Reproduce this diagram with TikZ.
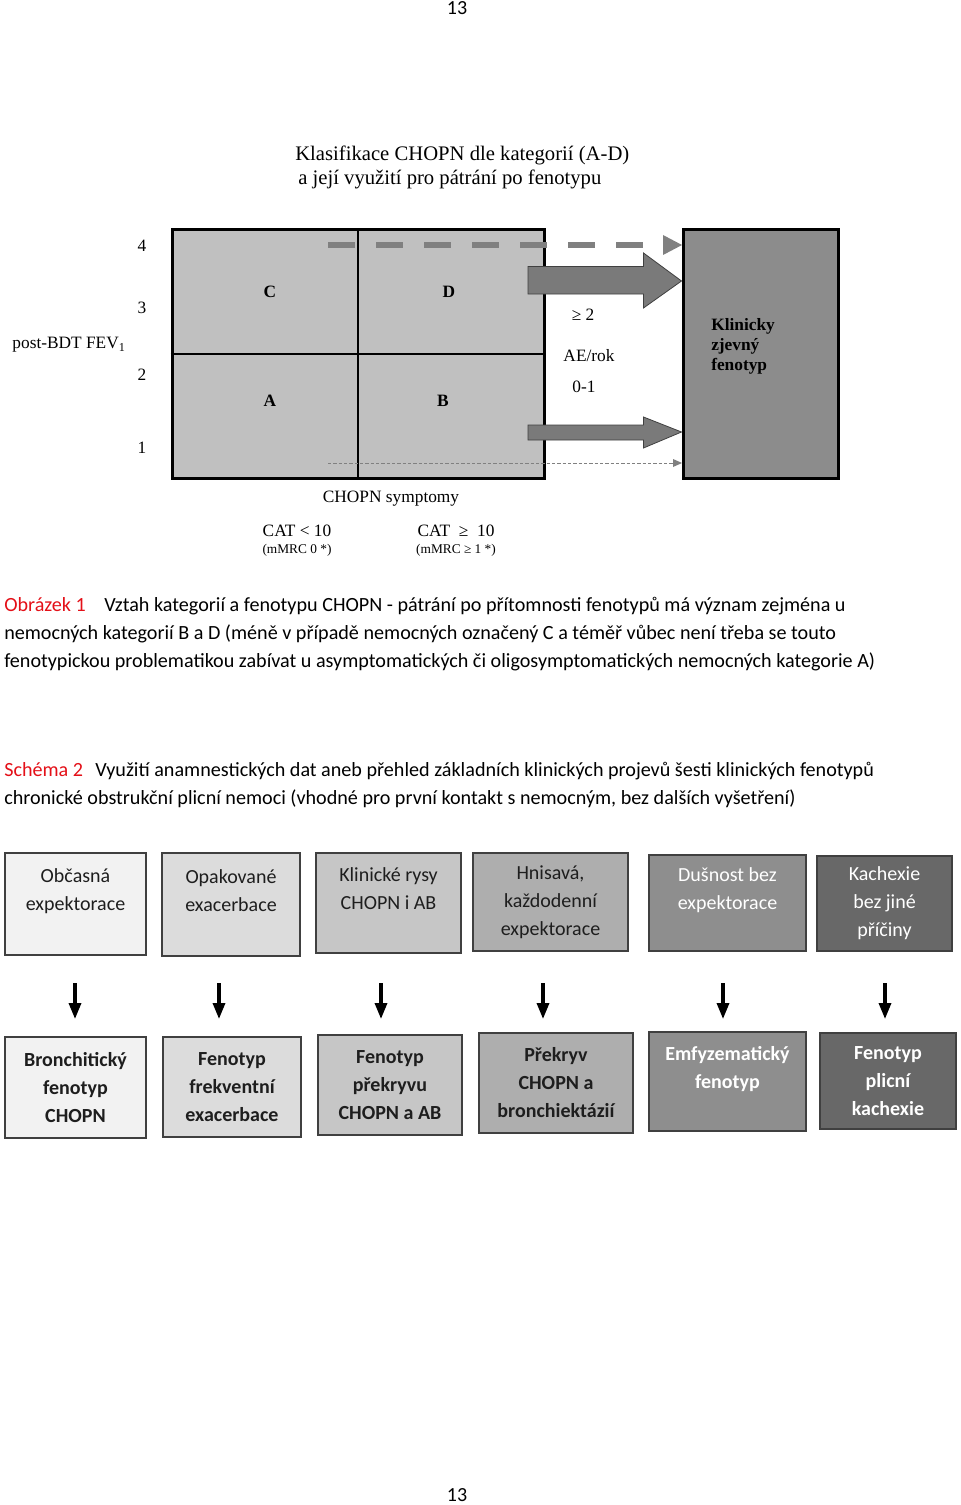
\documentclass[tikz,border=0pt]{standalone}
\usepackage{fontspec}
\setmainfont{Liberation Serif}
\newfontfamily\carl{Carlito}
\usetikzlibrary{arrows.meta}
\definecolor{capred}{RGB}{228,16,24}
\definecolor{gridfill}{RGB}{192,192,192}
\definecolor{klinfill}{RGB}{140,140,140}
\definecolor{blockfill}{RGB}{122,122,122}
\definecolor{dashgray}{RGB}{128,128,128}
\definecolor{boxline}{RGB}{64,64,64}
\definecolor{txtdark}{RGB}{30,30,30}
\definecolor{fa}{RGB}{242,242,242}
\definecolor{fb}{RGB}{220,220,220}
\definecolor{fc}{RGB}{198,198,198}
\definecolor{fd}{RGB}{174,174,174}
\definecolor{fe}{RGB}{142,142,142}
\definecolor{ff}{RGB}{104,104,104}
\begin{document}
\begin{tikzpicture}[x=0.75pt,y=-0.75pt,
  tnr/.style={inner sep=0pt,font=\fontsize{13}{15.4}\selectfont},
  tnrb/.style={inner sep=0pt,font=\fontsize{13}{15.4}\selectfont\bfseries},
  captxt/.style={inner sep=0pt,anchor=base west,font=\carl\fontsize{15.1}{21}\selectfont},
  pbox/.style={draw=boxline,line width=1.5pt,align=center,inner sep=0pt,
     font=\carl\fontsize{15}{21}\selectfont,text=txtdark},
  fbox/.style={pbox,font=\carl\fontsize{15}{21}\selectfont\bfseries},
  down/.style={line width=2.5pt,-{Triangle[length=12pt,width=9pt]}},
  block/.style={fill=blockfill,draw=black!75,line width=0.6pt}
]
\useasboundingbox (0,0) rectangle (960,1505);
\fill[white] (0,0) rectangle (960,1505);

% page numbers
\node[inner sep=0pt,font=\carl\fontsize{15}{18}\selectfont] (pn1) at (457,8) {13};
\node[inner sep=0pt,font=\carl\fontsize{15}{18}\selectfont] (pn2) at (457,1495) {13};

% title
\node[inner sep=0pt,anchor=west,font=\fontsize{15.5}{18}\selectfont] (t1) at (295,155) {Klasifikace CHOPN dle kategorií (A-D)};
\node[inner sep=0pt,anchor=west,font=\fontsize{15.5}{18}\selectfont] (t2) at (298,179) {a její využití pro pátrání po fenotypu};

% grid
\node[draw=black,line width=2.25pt,fill=gridfill,minimum width=279pt,minimum height=186pt,inner sep=0pt] (grid) at (358,354) {};
\draw[line width=0.9pt] (grid.north) -- (grid.south);
\draw[line width=0.9pt] (grid.west) -- (grid.east);
\node[draw=black,line width=2.25pt,fill=klinfill,minimum width=116.25pt,minimum height=186pt,inner sep=0pt] (klin) at (760.5,354) {};

% dashed arrows
\coordinate (d1s) at (328,245);
\coordinate (d1e) at (643,245);
\draw[dashgray,line width=4.5pt,dash pattern=on 20.25pt off 15.75pt] (d1s) -- (d1e);
\fill[dashgray] (663,235) -- (682,245) -- (663,255) -- cycle;
\coordinate (d2s) at (328,463);
\coordinate (d2e) at (673,463);
\draw[dashgray,line width=0.7pt,dash pattern=on 2.5pt off 1.5pt] (d2s) -- (d2e);
\fill[dashgray] (673,459) -- (682,463) -- (673,467) -- cycle;

% block arrows
\draw[block] (528,266.5) -- (643.5,266.5) -- (643.5,253) -- (klin.west |- 0,281) -- (643.5,308) -- (643.5,294) -- (528,294) -- cycle;
\draw[block] (528,425) -- (643.5,425) -- (643.5,417) -- (klin.west |- 0,432) -- (643.5,448) -- (643.5,440) -- (528,440) -- cycle;

% grid labels
\node[tnrb] (lc) at (270,292) {C};
\node[tnrb] (ld) at (449,292) {D};
\node[tnrb] (la) at (270,401) {A};
\node[tnrb] (lb) at (443,401) {B};
\node[tnr] (n4) at (142,246) {4};
\node[tnr] (n3) at (142,308) {3};
\node[tnr] (n2) at (142,375) {2};
\node[tnr] (n1) at (142,448) {1};
\node[tnr] (fev) at (69,345) {post-BDT FEV\textsubscript{1}};
\node[tnr] (ae2) at (583,315) {≥ 2};
\node[tnr] (aer) at (589,356) {AE/rok};
\node[tnr] (ae0) at (584,387) {0-1};
\node[tnrb,anchor=north west,align=left,font=\fontsize{13}{15.2}\selectfont\bfseries] (kl) at (711,318) {Klinicky\\zjevný\\fenotyp};
\node[tnr] (sym) at (391,499) {CHOPN symptomy};
\node[tnr] (cat1) at (297,531) {CAT < 10};
\node[inner sep=0pt,font=\fontsize{10}{12}\selectfont] (mm1) at (297,550) {(mMRC 0 *)};
\node[tnr] (cat2) at (456,531) {CAT \ ≥ \ 10};
\node[inner sep=0pt,font=\fontsize{10}{12}\selectfont] (mm2) at (456,550) {(mMRC ≥ 1 *)};

% captions
\node[captxt,text=capred] (o1) at (4,611) {Obrázek 1};
\node[captxt] (o1t) at (104,611) {Vztah kategorií a fenotypu CHOPN - pátrání po přítomnosti fenotypů má význam zejména u};
\node[captxt] (o2t) at (4,639) {nemocných kategorií B a D (méně v případě nemocných označený C a téměř vůbec není třeba se touto};
\node[captxt] (o3t) at (4,667) {fenotypickou problematikou zabívat u asymptomatických či oligosymptomatických nemocných kategorie A)};
\node[captxt,text=capred] (s1) at (4,776) {Schéma 2};
\node[captxt] (s1t) at (95,776) {Využití anamnestických dat aneb přehled základních klinických projevů šesti klinických fenotypů};
\node[captxt] (s2t) at (4,804) {chronické obstrukční plicní nemoci (vhodné pro první kontakt s nemocným, bez dalších vyšetření)};

% row 1
\node[pbox,fill=fa,minimum width=105.75pt,minimum height=76.5pt] (b1) at (75.5,904) {Občasná\\expektorace\\\mbox{}};
\node[pbox,fill=fb,minimum width=103.5pt,minimum height=77.25pt] (b2) at (231,904.5) {Opakované\\exacerbace\\\mbox{}};
\node[pbox,fill=fc,minimum width=108.75pt,minimum height=75pt] (b3) at (388.5,903) {Klinické rysy\\CHOPN i AB\\\mbox{}};
\node[pbox,fill=fd,minimum width=116.25pt,minimum height=73.5pt] (b4) at (550.5,902) {Hnisavá,\\každodenní\\expektorace};
\node[pbox,fill=fe,text=white,minimum width=117.75pt,minimum height=72pt] (b5) at (727.5,903) {Dušnost bez\\expektorace\\\mbox{}};
\node[pbox,fill=ff,text=white,minimum width=101.25pt,minimum height=71.25pt] (b6) at (884.5,903) {Kachexie\\bez jiné\\příčiny};

% row 2
\node[fbox,fill=fa,minimum width=105.75pt,minimum height=75.75pt] (c1) at (75.5,1087.5) {Bronchitický\\fenotyp\\CHOPN};
\node[fbox,fill=fb,minimum width=103.5pt,minimum height=75pt] (c2) at (232,1087) {Fenotyp\\frekventní\\exacerbace};
\node[fbox,fill=fc,minimum width=108pt,minimum height=75pt] (c3) at (390,1085) {Fenotyp\\překryvu\\CHOPN a AB};
\node[fbox,fill=fd,minimum width=115.5pt,minimum height=75pt] (c4) at (556,1083) {Překryv\\CHOPN a\\bronchiektázií};
\node[fbox,fill=fe,text=white,minimum width=117.75pt,minimum height=74.25pt] (c5) at (727.5,1081.5) {Emfyzematický\\fenotyp\\\mbox{}};
\node[fbox,fill=ff,text=white,minimum width=102pt,minimum height=72pt] (c6) at (888,1081) {Fenotyp\\plicní\\kachexie};

% arrows between rows
\foreach \i/\x in {1/75,2/219,3/381,4/543,5/723,6/885}{
  \coordinate (as\i) at (\x,983);
  \coordinate (ae\i) at (\x,1019);
  \draw[down] (as\i) -- (ae\i);
}
\end{tikzpicture}
\end{document}
